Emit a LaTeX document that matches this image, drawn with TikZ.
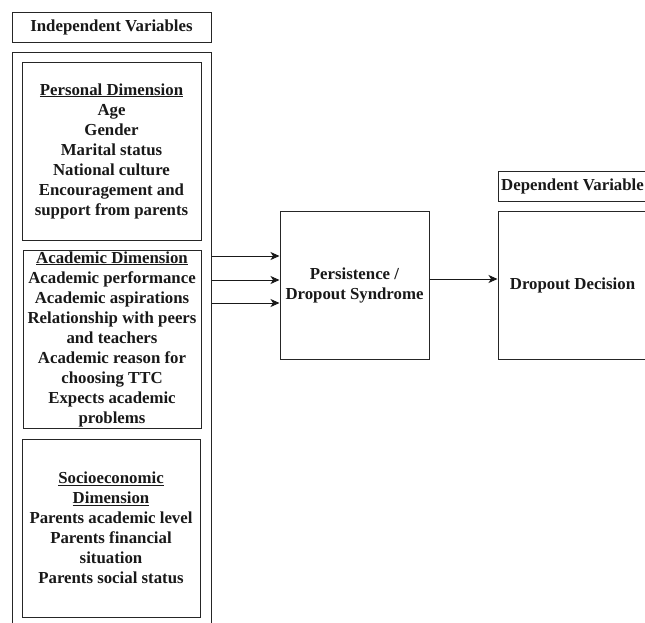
\documentclass[tikz,border=0pt]{standalone}
\usepackage{fontspec}
\setmainfont{Liberation Serif}
\usetikzlibrary{arrows.meta}

\tikzset{
  box/.style={draw=black!85, line width=1pt, align=center, inner sep=0pt,
    text=black!90, font=\bfseries\fontsize{16.8}{20}\selectfont},
  link/.style={line width=0.9pt, draw=black!90, -{Stealth[length=9pt,width=8pt,inset=2.5pt]}}
}

\begin{document}
\begin{tikzpicture}[x=1pt,y=-1pt]
\clip (0,0) rectangle (645,622);
\fill[white] (0,0) rectangle (645,622);

% independent side
\node [box, minimum width=199pt, minimum height=30pt] (indep) at (111.5,27) {Independent Variables};
\node [box, minimum width=199pt, minimum height=600pt] (outer) at (111.5,352) {};
\node [box, minimum width=179pt, minimum height=178pt] (personal) at (111.5,151)
  {\underline{Personal Dimension}\\Age\\Gender\\Marital status\\National culture\\Encouragement and\\support from parents};
\node [box, minimum width=178pt, minimum height=178pt] (academic) at (112,339)
  {\underline{Academic Dimension}\\Academic performance\\Academic aspirations\\Relationship with peers\\and teachers\\Academic reason for\\choosing TTC\\Expects academic\\problems};
\node [box, minimum width=178pt, minimum height=178pt] (socio) at (111,528)
  {\underline{Socioeconomic}\\\underline{Dimension}\\Parents academic level\\Parents financial\\situation\\Parents social status};

% mediator and dependent side
\node [box, minimum width=149pt, minimum height=148pt] (persist) at (354.5,285) {Persistence /\\Dropout Syndrome};
\node [box, minimum width=149pt, minimum height=30pt] (dep) at (572.5,186) {Dependent Variable};
\node [box, minimum width=149pt, minimum height=148pt] (dropout) at (572.5,285) {Dropout Decision};

\draw [link] (outer.east |- 0,256) -- (persist.west |- 0,256);
\draw [link] (outer.east |- 0,280) -- (persist.west |- 0,280);
\draw [link] (outer.east |- 0,303) -- (persist.west |- 0,303);
\draw [link] (persist.east |- 0,279) -- (dropout.west |- 0,279);
\end{tikzpicture}
\end{document}
